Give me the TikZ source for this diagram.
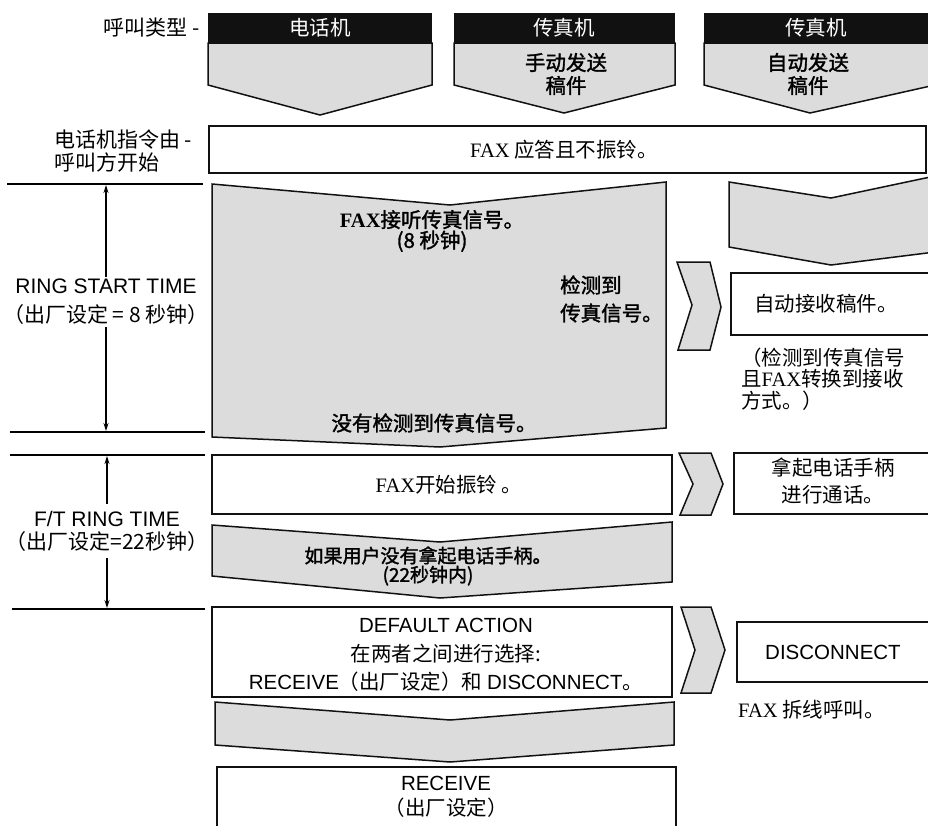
\documentclass[tikz,border=0pt]{standalone}
\usepackage{fontspec}
\setmainfont{Noto Sans CJK SC}
\newfontfamily\heavy[FakeBold=1.6]{Noto Sans CJK SC}
\newfontfamily\latin{Liberation Sans}
\newfontfamily\serif{Liberation Serif}
\usepackage{tikz}
\usetikzlibrary{arrows.meta,positioning,calc}
\usepackage{xcolor}
\definecolor{ink}{HTML}{111111}
\definecolor{speck}{HTML}{DCDCDC}

\tikzset{
  outline/.style={draw=ink, line width=1.5pt, line join=miter},
  speckled/.style={outline, fill=speck},
  txt/.style={font=\fontsize{20.5}{#1}\selectfont, align=center, inner sep=2pt},
  txt/.default=25,
  side/.style={font=\fontsize{21}{#1}\selectfont, align=center, inner sep=2pt},
  side/.default=25,
  heavytxt/.style={font=\heavy\fontsize{20.5}{#1}\selectfont, align=center, inner sep=2pt},
  heavytxt/.default=23,
  hdr/.style={font=\fontsize{20.5}{24}\selectfont, text=white},
  span/.style={line width=1.1pt, -{Stealth[length=8pt,width=5pt]}},
  rule/.style={line width=1.3pt}
}

\begin{document}
\begin{tikzpicture}[x=1pt, y=-1pt]
  \useasboundingbox (0,0) rectangle (928,825);

  % call types
  \node[side, anchor=east] (calltype) at (202,28) {呼叫类型 -};
  \foreach \l/\r in {208/432, 454/675, 704/935}
    \fill[ink] (\l,13) rectangle (\r,43);
  \draw[speckled] (208,43) -- (432,43) -- (432,85) -- (320,115) -- (208,85) -- cycle;
  \draw[speckled] (454,43) -- (675,43) -- (675,85) -- (564,113) -- (454,85) -- cycle;
  \draw[speckled] (704,43) -- (935,43) -- (935,85) -- (810,113) -- (704,85) -- cycle;
  \node[hdr] (phone) at (320,28) {电话机};
  \node[hdr] (faxa) at (564,28) {传真机};
  \node[hdr] (faxb) at (816,28) {传真机};
  \node[heavytxt] (manual) at (566,74) {手动发送\\稿件};
  \node[heavytxt] (auto) at (808,74) {自动发送\\稿件};

  % answer without ringing
  \node[side=23, anchor=west, align=left] (origin) at (52,151) {电话机指令由 -\\呼叫方开始};
  \draw[outline] (209,126) rectangle (926,173);
  \node[txt] (noring) at (564,150) {{\serif FAX}\ 应答且不振铃。};

  % ring start time
  \draw[rule] (7,184) -- (203,184);
  \draw[rule] (10,432) -- (205,432);
  \node[side=29] (rst) at (106,302) {{\latin RING START TIME}\\（出厂设定 = 8 秒钟）};
  \coordinate (rst top) at (106,185);
  \coordinate (rst bot) at (106,431);
  \draw[span] (rst.north) -- (rst top);
  \draw[span] (rst.south) -- (rst bot);

  \draw[speckled] (212,184) -- (450,205) -- (666,182) -- (666,428) -- (440,447) -- (212,437) -- cycle;
  \node[heavytxt=20.5] (listen) at (432,231) {{\serif\bfseries FAX}接听传真信号。\\(8 秒钟)};
  \node[heavytxt=28, anchor=west, align=left] (detect) at (558,299) {检测到\\传真信号。};
  \node[heavytxt] (nodetect) at (434,423) {没有检测到传真信号。};

  \draw[speckled] (677,262) -- (710,262) -- (721,307) -- (710,350) -- (678,350) -- (692,305) -- cycle;
  \draw[speckled] (729,182) -- (831,198) -- (935,176) -- (935,252) -- (831,265) -- (729,247) -- cycle;
  \draw[outline] (731,273) rectangle (935,335);
  \node[txt] (autorx) at (826,304) {自动接收稿件。};
  \node[txt=21.5, anchor=west, align=left] (note) at (739,379) {（检测到传真信号\\且{\serif FAX}转换到接收\\方式。）};

  % F/T ring time
  \draw[rule] (10,455) -- (205,455);
  \draw[rule] (12,609) -- (205,609);
  \node[side=23, inner ysep=7pt] (ftr) at (107,531) {{\latin F/T RING TIME}\\（出厂设定=22秒钟）};
  \coordinate (ftr top) at (107,456);
  \coordinate (ftr bot) at (107,608);
  \draw[span] (ftr.north) -- (ftr top);
  \draw[span] (ftr.south) -- (ftr bot);

  \draw[outline] (212,455) rectangle (672,514);
  \node[txt] (ring) at (449,485) {{\serif FAX}开始振铃 。};
  \draw[speckled] (679,453) -- (711,453) -- (723,484) -- (711,515) -- (680,515) -- (693,484) -- cycle;
  \draw[outline] (734,453) rectangle (935,514);
  \node[txt=27] (pickup) at (833,481) {拿起电话手柄\\进行通话。};
  \draw[speckled] (212,525) -- (440,542) -- (672,522) -- (672,582) -- (440,598) -- (212,576) -- cycle;
  \node[heavytxt=19, font=\heavy\fontsize{19}{19}\selectfont] (nopick) at (428,566) {如果用户没有拿起电话手柄。\\(22秒钟内)};

  % default action
  \draw[outline] (212,607) rectangle (672,697);
  \node[txt=28.5] (default) at (446,655) {{\latin DEFAULT ACTION}\\在两者之间进行选择:\\{\latin RECEIVE}（出厂设定）和 {\latin DISCONNECT}。};
  \draw[speckled] (681,607) -- (711,607) -- (725,650) -- (711,693) -- (681,693) -- (695,650) -- cycle;
  \draw[outline] (737,622) rectangle (935,682);
  \node[txt, font=\latin\fontsize{20.5}{24}\selectfont] (disc) at (833,652) {DISCONNECT};
  \node[txt, anchor=west] (hangup) at (736,710) {{\serif FAX} 拆线呼叫。};

  \draw[speckled] (215,702) -- (450,720) -- (674,702) -- (674,745) -- (450,762) -- (215,745) -- cycle;
  \draw[outline] (217,826) -- (217,767) -- (676,767) -- (676,826);
  \node[txt=25] (receive) at (446,797) {{\latin RECEIVE}\\（出厂设定）};
\end{tikzpicture}
\end{document}
